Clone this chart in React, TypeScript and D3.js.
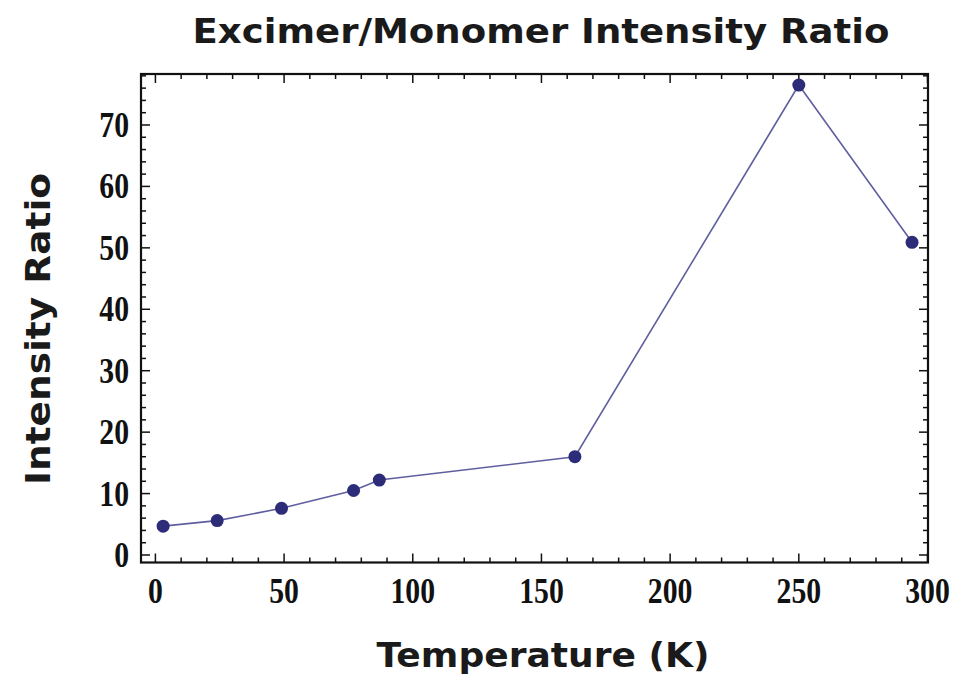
import React from "react";
import * as d3 from "d3";

const temperatures = [3, 24, 49, 77, 87, 163, 250, 294];
const ratios = [4.7, 5.6, 7.6, 10.5, 12.2, 16.0, 76.5, 50.9];
const xMajorTicks = [0, 50, 100, 150, 200, 250, 300];
const yMajorTicks = [0, 10, 20, 30, 40, 50, 60, 70];
const titleText = "Excimer/Monomer Intensity Ratio";
const xLabelText = "Temperature (K)";
const yLabelText = "Intensity Ratio";

const W = 959;
const H = 676;
const frame = { left: 141, right: 928, top: 74, bottom: 562.5 };

export default function App() {
  const x = d3.scaleLinear().domain([-5.6, 300.2]).range([frame.left, frame.right]);
  const y = d3.scaleLinear().domain([-1.22, 78.3]).range([frame.bottom, frame.top]);

  const xMinor = d3.range(0, 301, 10).filter((v) => v % 50 !== 0);
  const yMinor = d3.range(0, 79, 2).filter((v) => v % 10 !== 0);

  const data = temperatures.map((t, i) => [t, ratios[i]] as [number, number]);
  const line = d3.line<[number, number]>().x((d) => x(d[0])).y((d) => y(d[1]));

  const major = 9;
  const minor = 5;
  const tickStroke = "#111";

  const tickFont = {
    fontFamily: "'Liberation Serif', 'Times New Roman', serif",
    fontWeight: 700,
    fontSize: 35,
  } as const;

  const sansFont = {
    fontFamily: "'DejaVu Sans', Verdana, sans-serif",
    fontWeight: 700,
  } as const;

  return (
    <svg
      width={W}
      height={H}
      viewBox={`0 0 ${W} ${H}`}
      style={{ position: "absolute", left: 0, top: 0, background: "#fff" }}
    >
      <rect x={0} y={0} width={W} height={H} fill="#fff" />
      {/* title */}
      <text
        x={541}
        y={43}
        textAnchor="middle"
        fontSize={34}
        textLength={697}
        lengthAdjust="spacingAndGlyphs"
        fill="#1a1a1a"
        {...sansFont}
      >
        {titleText}
      </text>
      {/* x label */}
      <text
        x={543}
        y={667}
        textAnchor="middle"
        fontSize={33}
        textLength={333}
        lengthAdjust="spacingAndGlyphs"
        fill="#1a1a1a"
        {...sansFont}
      >
        {xLabelText}
      </text>
      {/* y label */}
      <text
        transform={`translate(50, 329) rotate(-90)`}
        textAnchor="middle"
        fontSize={33}
        textLength={312}
        lengthAdjust="spacingAndGlyphs"
        fill="#1a1a1a"
        {...sansFont}
      >
        {yLabelText}
      </text>

      {/* ticks bottom & top */}
      {xMajorTicks.map((v) => (
        <g key={`xM${v}`}>
          <line x1={x(v)} x2={x(v)} y1={frame.bottom} y2={frame.bottom - major} stroke={tickStroke} strokeWidth={1.5} />
          <line x1={x(v)} x2={x(v)} y1={frame.top} y2={frame.top + major} stroke={tickStroke} strokeWidth={1.5} />
          <text
            transform={`translate(${x(v)}, 603) scale(0.85, 1)`}
            textAnchor="middle"
            fill="#111"
            {...tickFont}
          >
            {v}
          </text>
        </g>
      ))}
      {xMinor.map((v) => (
        <g key={`xm${v}`}>
          <line x1={x(v)} x2={x(v)} y1={frame.bottom} y2={frame.bottom - minor} stroke={tickStroke} strokeWidth={1.5} />
          <line x1={x(v)} x2={x(v)} y1={frame.top} y2={frame.top + minor} stroke={tickStroke} strokeWidth={1.5} />
        </g>
      ))}
      {/* ticks left & right */}
      {yMajorTicks.map((v) => (
        <g key={`yM${v}`}>
          <line x1={frame.left} x2={frame.left + major} y1={y(v)} y2={y(v)} stroke={tickStroke} strokeWidth={1.5} />
          <line x1={frame.right} x2={frame.right - major} y1={y(v)} y2={y(v)} stroke={tickStroke} strokeWidth={1.5} />
          <text
            transform={`translate(129, ${y(v) + 12}) scale(0.85, 1)`}
            textAnchor="end"
            fill="#111"
            {...tickFont}
          >
            {v}
          </text>
        </g>
      ))}
      {yMinor.map((v) => (
        <g key={`ym${v}`}>
          <line x1={frame.left} x2={frame.left + minor} y1={y(v)} y2={y(v)} stroke={tickStroke} strokeWidth={1.5} />
          <line x1={frame.right} x2={frame.right - minor} y1={y(v)} y2={y(v)} stroke={tickStroke} strokeWidth={1.5} />
        </g>
      ))}

      {/* frame */}
      <rect
        x={frame.left}
        y={frame.top}
        width={frame.right - frame.left}
        height={frame.bottom - frame.top}
        fill="none"
        stroke="#111"
        strokeWidth={2.2}
      />

      {/* data */}
      <path d={line(data) || ""} fill="none" stroke="#5f5fa0" strokeWidth={1.6} />
      {data.map((d, i) => (
        <circle key={i} cx={x(d[0])} cy={y(d[1])} r={6.5} fill="#2c2c78" />
      ))}
    </svg>
  );
}
